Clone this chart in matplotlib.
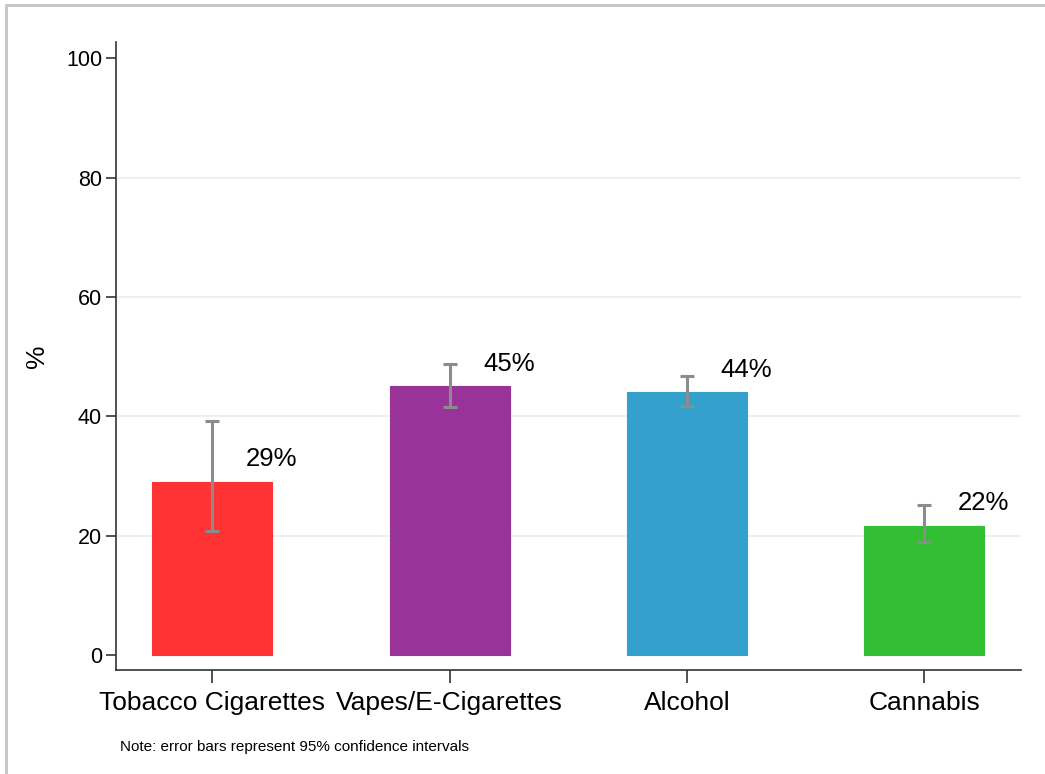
import matplotlib.pyplot as plt
from matplotlib.patches import Rectangle

plt.rcParams['font.family'] = ['Liberation Sans', 'DejaVu Sans']

# 데이터
categories = ["Tobacco Cigarettes", "Vapes/E-Cigarettes", "Alcohol", "Cannabis"]
values = [29.0, 45.0, 44.0, 21.7]
ci_low = [20.8, 41.5, 41.7, 18.9]
ci_high = [39.2, 48.7, 46.7, 25.1]
value_labels = ["29%", "45%", "44%", "22%"]
bar_colors = ["#FF3333", "#993399", "#33A1CB", "#33BF33"]
yticks = [0, 20, 40, 60, 80, 100]

fig = plt.figure(figsize=(10.45, 7.74), dpi=100)
ax = fig.add_axes([0.111, 0.1344, 0.866, 0.8113])

# 바깥 테두리 (오른쪽/아래는 그림 밖으로 잘림)
fig.patches.append(Rectangle((6 / 1045, -0.05), 1.2, 1 - 5 / 774 + 0.05,
                             transform=fig.transFigure, fill=False,
                             edgecolor="#C4C4C4", linewidth=2.0))

x = range(len(categories))
ax.bar(x, values, width=0.505, color=bar_colors, edgecolor=bar_colors,
       linewidth=0.8, zorder=2)

err_low = [v - lo for v, lo in zip(values, ci_low)]
err_high = [hi - v for v, hi in zip(values, ci_high)]
ax.errorbar(x, values, yerr=[err_low, err_high], fmt="none",
            ecolor="#8C8C8C", elinewidth=2.2, capsize=5, capthick=2.2,
            zorder=3)

for i, (v, lab) in enumerate(zip(values, value_labels)):
    ax.text(i + 0.25, v + 3.8, lab, ha="center", va="center", fontsize=18.5)

# 그리드 (0, 100 제외)
for t in yticks[1:-1]:
    ax.axhline(t, color="#EAF1F2", linewidth=1.5, zorder=1)

ax.set_xlim(-0.406, 3.408)
ax.set_ylim(-2.5, 102.7)
ax.set_yticks(yticks)
ax.set_xticks(list(x))
ax.set_xticklabels(categories, fontsize=19)
ax.tick_params(axis="y", labelsize=15.5, length=7, width=1.2, color="#333333", pad=3)
ax.tick_params(axis="x", length=9, width=1.2, color="#333333", pad=6)
ax.set_ylabel("%", fontsize=19, labelpad=12)

for side in ["top", "right"]:
    ax.spines[side].set_visible(False)
for side in ["left", "bottom"]:
    ax.spines[side].set_color("#333333")
    ax.spines[side].set_linewidth(1.2)

fig.text(120 / 1045, 1 - 747 / 774, "Note: error bars represent 95% confidence intervals",
         fontsize=11, ha="left", va="center")

fig.savefig("out.png", dpi=100)
